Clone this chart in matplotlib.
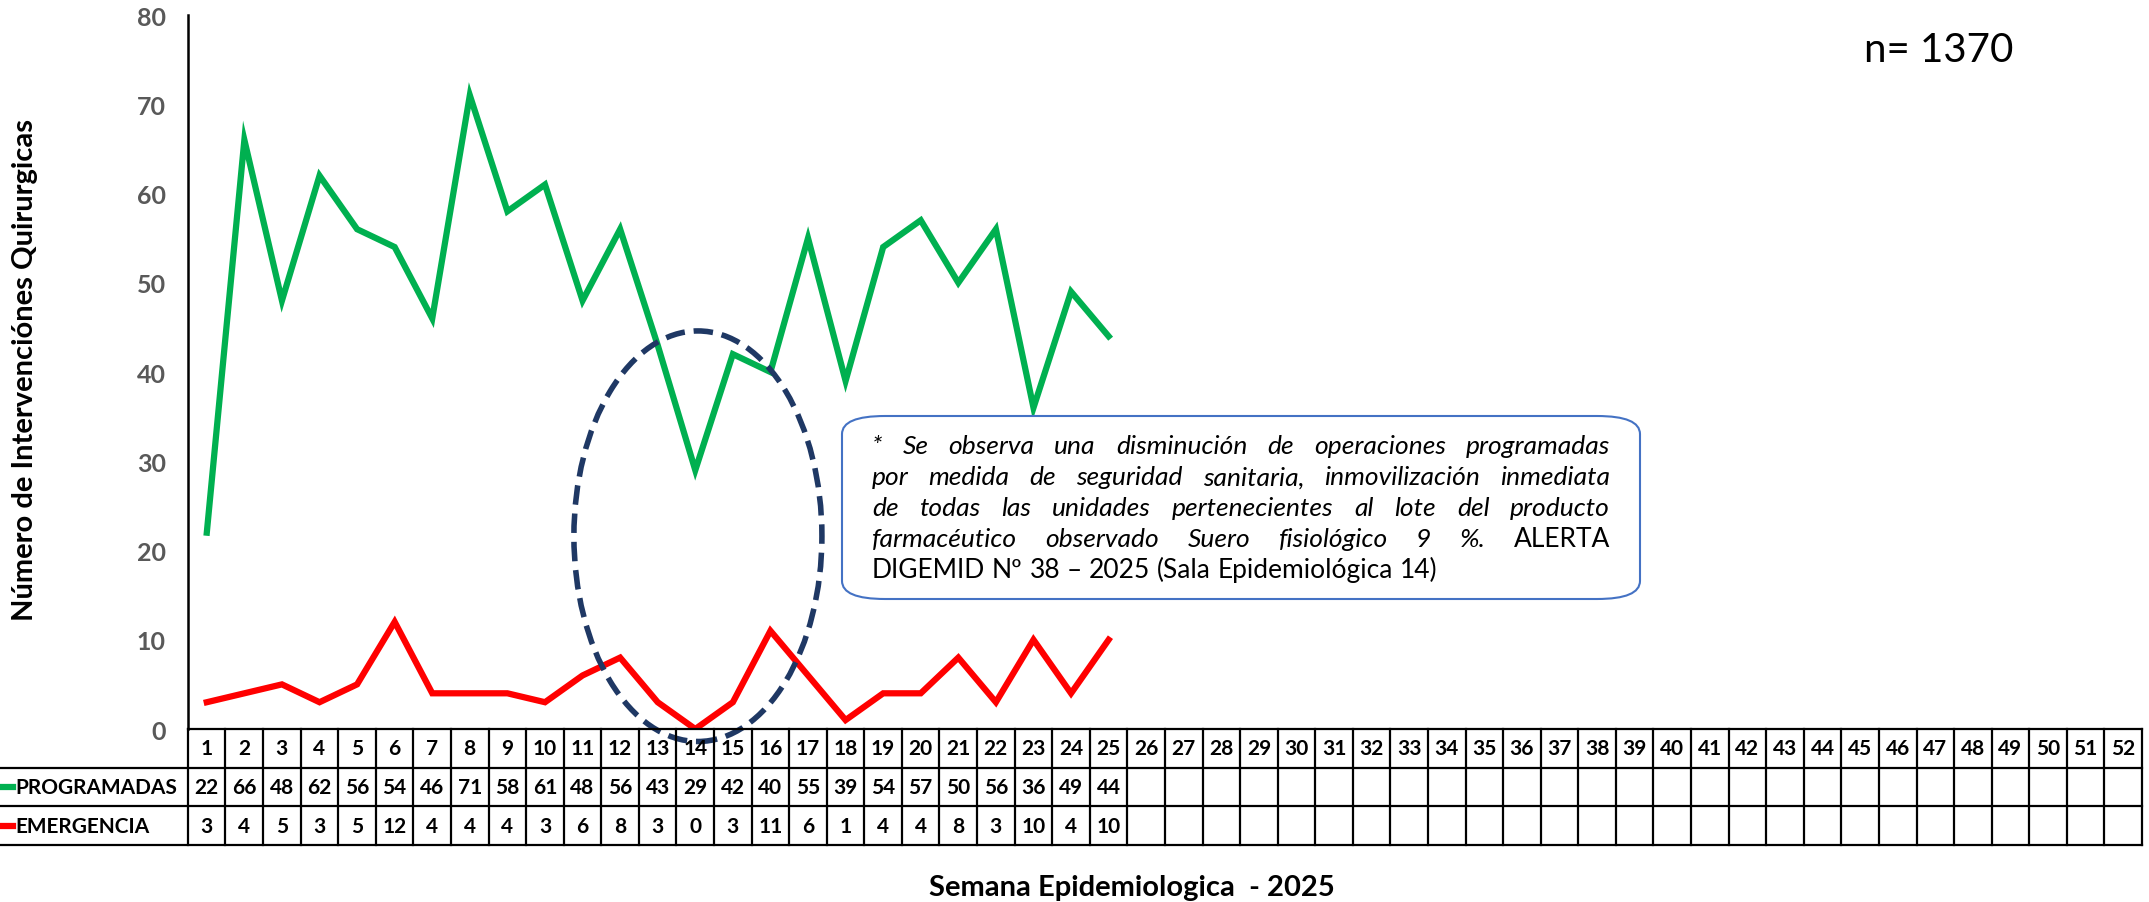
import matplotlib
matplotlib.use('Agg')
import matplotlib.pyplot as plt
from matplotlib.patches import Ellipse, FancyBboxPatch

plt.rcParams['font.family'] = ['Lato', 'DejaVu Sans']

# datos
semanas = list(range(1, 53))
programadas = [22, 66, 48, 62, 56, 54, 46, 71, 58, 61, 48, 56, 43, 29, 42, 40, 55, 39, 54, 57, 50, 56, 36, 49, 44]
emergencia = [3, 4, 5, 3, 5, 12, 4, 4, 4, 3, 6, 8, 3, 0, 3, 11, 6, 1, 4, 4, 8, 3, 10, 4, 10]
series_names = ['PROGRAMADAS', 'EMERGENCIA']
y_ticks = [0, 10, 20, 30, 40, 50, 60, 70, 80]

verde = '#00B050'
rojo = '#FF0000'
W, H = 2149, 903
fs_tab = 15

fig = plt.figure(figsize=(W / 100, H / 100), dpi=100)
ax = fig.add_axes([188 / W, 1 - 730 / H, (2142 - 188) / W, (730 - 16) / H])

x_prog = semanas[:len(programadas)]
x_emer = semanas[:len(emergencia)]
ax.plot(x_prog, programadas, color=verde, lw=4.5, solid_joinstyle='miter')
ax.plot(x_emer, emergencia, color=rojo, lw=4.5, solid_joinstyle='miter')

ax.set_xlim(0.5, 52.5)
ax.set_ylim(0, 80)
ax.set_yticks(y_ticks)
ax.set_xticks([])
for s in ['top', 'right', 'bottom']:
    ax.spines[s].set_visible(False)
ax.spines['left'].set_linewidth(1.8)
ax.tick_params(axis='y', length=0, pad=16, labelsize=18, labelcolor='#595959')
for t in ax.get_yticklabels():
    t.set_fontweight('bold')

# ovalo punteado
ell = Ellipse((14.07, 21.6), 6.6, 46, fill=False, edgecolor='#1F3864', lw=4,
              linestyle=(0, (3.5, 1.6)), clip_on=False, zorder=5)
ax.add_patch(ell)

# tabla de datos
tab = fig.add_axes([0, 1 - 846 / H, 2142 / W, (846 - 730) / H])
tab.set_xlim(-4.5, 52.5)
tab.set_ylim(3, 0)
tab.axis('off')
lc = 'black'
lw_t = 1.6
tab.plot([0.5, 52.5], [0, 0], color=lc, lw=lw_t, clip_on=False)
for r in [1, 2, 3]:
    tab.plot([-4.5, 52.5], [r, r], color=lc, lw=lw_t, clip_on=False)
tab.plot([0.5, 0.5], [0, 3], color=lc, lw=lw_t, clip_on=False)
for s in semanas:
    tab.plot([s + 0.5, s + 0.5], [0, 3], color=lc, lw=lw_t, clip_on=False)
    tab.text(s, 0.5, str(s), ha='center', va='center', fontsize=fs_tab, fontweight='bold')
for i, v in enumerate(programadas):
    tab.text(semanas[i], 1.5, str(v), ha='center', va='center', fontsize=fs_tab, fontweight='bold')
for i, v in enumerate(emergencia):
    tab.text(semanas[i], 2.5, str(v), ha='center', va='center', fontsize=fs_tab, fontweight='bold')
for r, (name, col) in enumerate(zip(series_names, [verde, rojo])):
    tab.plot([-4.5, -4.16], [r + 1.5, r + 1.5], color=col, lw=4.5, clip_on=False)
    tab.text(-4.08, r + 1.5, name, ha='left', va='center', fontsize=fs_tab, fontweight='bold')

# textos
fig.text(25 / W, 1 - 370 / H, 'Número de Intervenciónes Quirurgicas', rotation=90,
         ha='center', va='center', fontsize=21, fontweight='bold')
fig.text(1132 / W, 1 - 888 / H, 'Semana Epidemiologica  - 2025', ha='center', va='center',
         fontsize=21, fontweight='bold')
fig.text(1864 / W, 1 - 51 / H, 'n= 1370', ha='left', va='center', fontsize=29)

# cuadro de nota
box = FancyBboxPatch((842 / W, 1 - 600 / H), (1640 - 842) / W, (600 - 417) / H,
                     boxstyle='round,pad=0,rounding_size=0.02', transform=fig.transFigure,
                     facecolor='white', edgecolor='#4472C4', lw=1.5, zorder=6)
fig.add_artist(box)

nota = [
    [('* Se observa una disminución de operaciones programadas', 'italic')],
    [('por medida de seguridad sanitaria, inmovilización inmediata', 'italic')],
    [('de todas las unidades pertenecientes al lote del producto', 'italic')],
    [('farmacéutico observado Suero fisiológico 9 %.', 'italic'), ('ALERTA', 'normal')],
    [('DIGEMID Nº 38 – 2025 (Sala Epidemiológica 14)', 'normal')],
]
x_left, x_right = 872, 1610
y_first, dy = 447, 30.8
fs_nota = 19
renderer = fig.canvas.get_renderer()
for li, partes in enumerate(nota):
    words = []
    for txt, st in partes:
        for w in txt.split():
            t = fig.text(0, 0, w, fontsize=fs_nota, style=st, ha='left', va='center', zorder=7)
            words.append(t)
    widths = [t.get_window_extent(renderer).width for t in words]
    if li < len(nota) - 1:
        gap = (x_right - x_left - sum(widths)) / (len(words) - 1)
    else:
        sp = fig.text(0, 0, 'a a', fontsize=fs_nota)
        sp2 = fig.text(0, 0, 'aa', fontsize=fs_nota)
        gap = sp.get_window_extent(renderer).width - sp2.get_window_extent(renderer).width
        sp.remove()
        sp2.remove()
    xp = x_left
    yp = 1 - (y_first + li * dy) / H
    for t, w in zip(words, widths):
        t.set_position((xp / W, yp))
        xp += w + gap

fig.savefig('out.png', dpi=100)
